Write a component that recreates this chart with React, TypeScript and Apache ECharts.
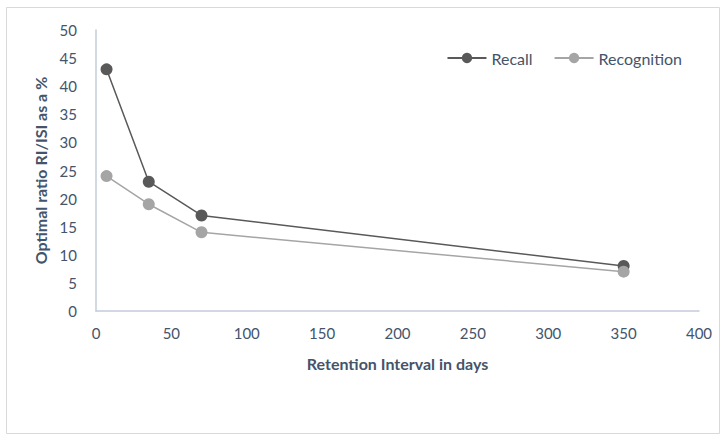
import React, { useEffect, useRef } from "react";
import * as echarts from "echarts";

const retentionDays = [7, 35, 70, 350];
const recall = [43, 23, 17, 8];
const recognition = [24, 19, 14, 7];

const TEXT = "#44546A";
const FONT = "Lato, 'Open Sans', sans-serif";

export default function App() {
  const ref = useRef<HTMLDivElement>(null);

  useEffect(() => {
    if (!ref.current) return;
    const chart = echarts.init(ref.current, undefined, { renderer: "svg" });
    const pair = (ys: number[]) => retentionDays.map((x, i) => [x, ys[i]]);
    chart.setOption({
      animation: false,
      textStyle: { fontFamily: FONT },
      graphic: [
        {
          type: "rect",
          shape: { x: 6.5, y: 7.5, width: 713, height: 426 },
          style: { fill: "none", stroke: "#D9D9D9", lineWidth: 1 },
          silent: true,
        },
      ],
      grid: { left: 96, right: 27, top: 30, bottom: 129 },
      legend: {
        top: 45,
        right: 39,
        itemGap: 21,
        itemWidth: 39,
        itemHeight: 13,
        textStyle: { color: TEXT, fontSize: 16, fontFamily: FONT },
        data: ["Recall", "Recognition"],
      },
      xAxis: {
        type: "value",
        min: 0,
        max: 400,
        interval: 50,
        name: "Retention Interval in days",
        nameLocation: "middle",
        nameGap: 44,
        nameTextStyle: { color: TEXT, fontSize: 16, fontWeight: "bold", fontFamily: FONT },
        axisLine: { lineStyle: { color: "#C3CCDA", width: 1.5 } },
        axisTick: { show: false },
        splitLine: { show: false },
        axisLabel: { color: TEXT, fontSize: 15, margin: 14, fontFamily: FONT },
      },
      yAxis: {
        type: "value",
        min: 0,
        max: 50,
        interval: 5,
        name: "Optimal ratio RI/ISI as a %",
        nameLocation: "middle",
        nameGap: 44,
        nameTextStyle: { color: TEXT, fontSize: 16, fontWeight: "bold", fontFamily: FONT },
        axisLine: { show: true, lineStyle: { color: "#C3CCDA", width: 1.5 } },
        axisTick: { show: false },
        splitLine: { show: false },
        axisLabel: { color: TEXT, fontSize: 15, margin: 19, fontFamily: FONT },
      },
      series: [
        {
          name: "Recall",
          type: "line",
          data: pair(recall),
          symbol: "circle",
          symbolSize: 12,
          itemStyle: { color: "#595959" },
          lineStyle: { color: "#595959", width: 1.5 },
        },
        {
          name: "Recognition",
          type: "line",
          data: pair(recognition),
          symbol: "circle",
          symbolSize: 12,
          itemStyle: { color: "#A5A5A5" },
          lineStyle: { color: "#A5A5A5", width: 1.5 },
        },
      ],
    });
    return () => chart.dispose();
  }, []);

  return (
    <div
      style={{
        position: "fixed",
        left: 0,
        top: 0,
        width: 726,
        height: 440,
        background: "#fff",
      }}
    >
      <div ref={ref} style={{ width: 726, height: 440 }} />
    </div>
  );
}
